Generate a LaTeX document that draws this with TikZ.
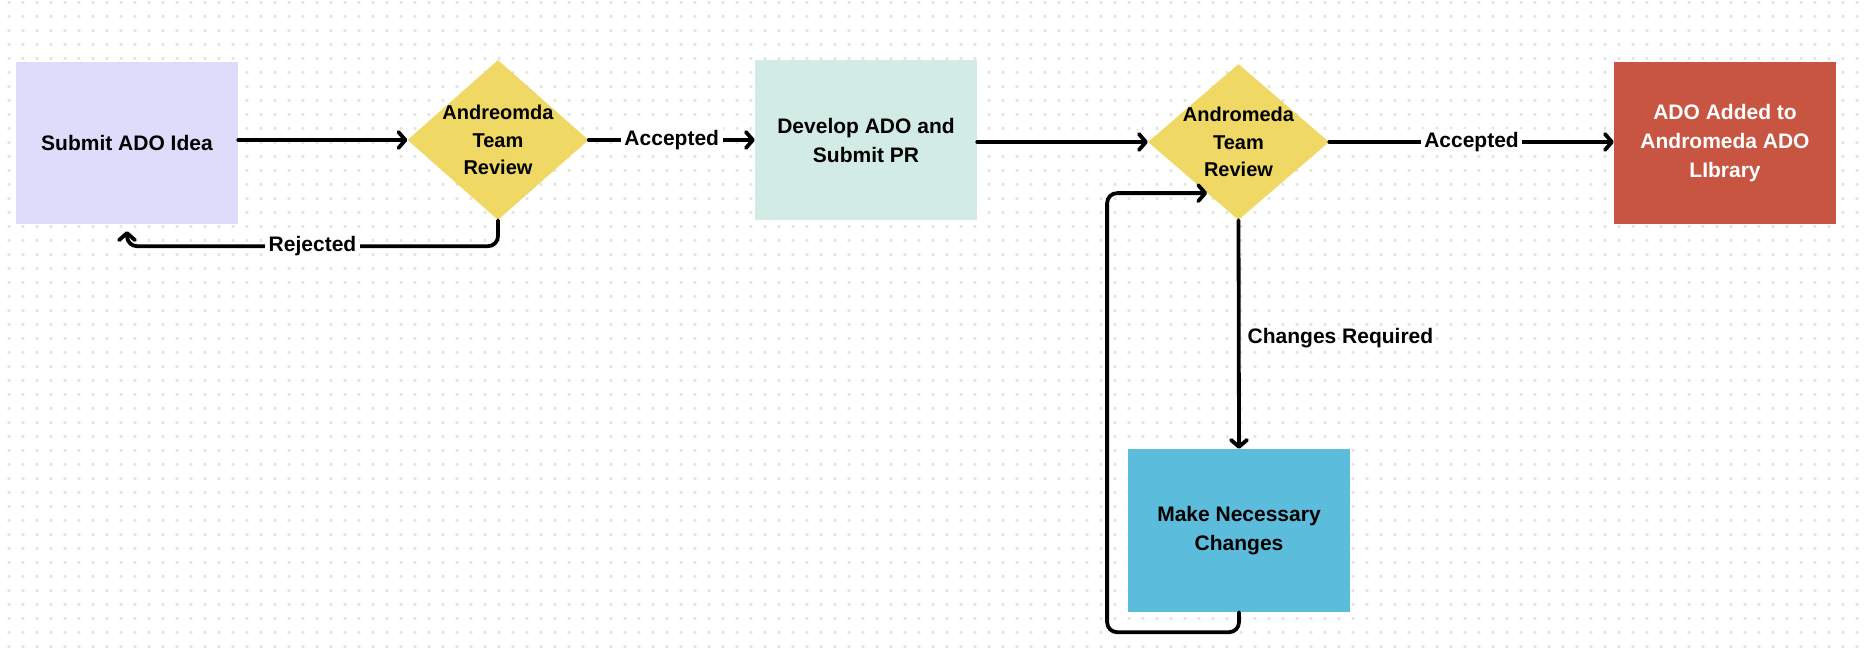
\documentclass[tikz,border=0pt]{standalone}
\usepackage{fontspec}
\setmainfont{Liberation Sans}
\usetikzlibrary{arrows.meta,shapes.geometric,calc}
\definecolor{lav}{HTML}{DFDCFB}
\definecolor{ylw}{HTML}{F0D864}
\definecolor{mint}{HTML}{D2EBE4}
\definecolor{brick}{HTML}{C85442}
\definecolor{sky}{HTML}{5BBCDC}
\definecolor{dotc}{HTML}{E4E4E4}
\begin{document}
\begin{tikzpicture}[x=1pt,y=-1pt,
  box/.style={rectangle, minimum width=222pt, inner sep=0pt, align=center,
    font=\bfseries\fontsize{21}{29}\selectfont},
  dia/.style={diamond, fill=ylw, minimum width=181pt, inner sep=0pt},
  diatext/.style={align=center, inner sep=0pt, font=\bfseries\fontsize{20}{27.5}\selectfont},
  conn/.style={line width=3.8pt, line cap=round, line join=round,
    -{Straight Barb[length=7pt,width=16pt,round]}},
  lbl/.style={fill=white, inner sep=3.5pt, font=\bfseries\fontsize{21}{25}\selectfont}]
\useasboundingbox (0,0) rectangle (1868,658);
\fill[white] (0,0) rectangle (1868,658);
\fill[dotc] \foreach \i in {0,...,133} {\foreach \j in {0,...,46} {({9+14*\i-1.3},{2.5+14*\j-1.3}) rectangle ++(2.6,2.6)}};
% nodes
\node[box, fill=lav, minimum height=162pt] (submit) at (127,143) {Submit ADO Idea};
\node[dia, minimum height=160pt] (d1) at (498,140) {};
\node[diatext] (d1t) at (d1.center) {Andreomda\\Team\\Review};
\node[box, fill=mint, minimum height=160pt] (develop) at (866,140) {Develop ADO and\\Submit PR};
\node[dia, minimum height=156pt] (d2) at (1238.5,142) {};
\node[diatext] (d2t) at (d2.center) {Andromeda\\Team\\Review};
\node[box, fill=brick, text=white, minimum height=162pt] (ado) at (1725,143) {ADO Added to\\Andromeda ADO\\LIbrary};
\node[box, fill=sky, minimum height=163pt] (mnc) at (1239,530.5) {Make Necessary\\Changes};
\coordinate (loopend) at ($(d2.west)!0.654!(d2.south)$);
% connectors
\draw[conn] (submit.east |- d1.west) -- (d1.west);
\draw[conn] (d1.east) -- node[lbl]{Accepted} (develop.west |- d1.east);
\draw[conn] (develop.east |- d2.west) -- (d2.west);
\draw[conn] (d2.east) -- node[lbl]{Accepted} (ado.west |- d2.east);
\draw[conn] (d2.south) -- node[pos=0.515, anchor=west, inner sep=0pt, xshift=7pt,
  font=\bfseries\fontsize{21}{25}\selectfont]{Changes Required} (mnc.north);
\draw[conn, rounded corners=10pt] (mnc.south) -- ++(0,20) -| ($(loopend)+(-100,0)$) -- (loopend);
\draw[conn, rounded corners=10pt] (d1.south) -- ++(0,26) -| node[lbl, pos=0.25]{Rejected} ($(submit.south)+(0,7)$);
\end{tikzpicture}
\end{document}
